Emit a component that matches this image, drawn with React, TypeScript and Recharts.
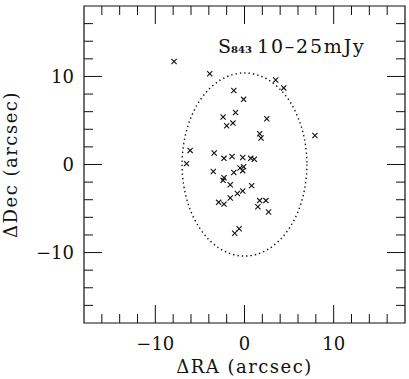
import React from 'react';
import { ScatterChart, Scatter, XAxis, YAxis, ReferenceDot, ReferenceArea } from 'recharts';

// source positions (arcsec)
const raOffsets = [
  -7.9, -3.9, 3.5, 4.4, -1.2, -0.1, -1.0, -2.4, -1.3, -2.0, 2.5, 1.7, 1.85, 7.9,
  -6.1, -6.5, -3.4, -2.3, -1.4, -0.2, 0.7, 1.1, -0.1, -0.5, -0.2, -3.5, -1.2,
  -2.3, -2.4, -1.6, 0.8, -0.2, -0.8, -1.6, -2.9, -2.3, 1.7, 2.4, 1.5, 2.7, -0.6, -1.1,
];
const decOffsets = [
  11.7, 10.3, 9.6, 8.7, 8.4, 7.4, 5.9, 5.4, 4.7, 4.4, 5.2, 3.5, 3.0, 3.3,
  1.6, 0.1, 1.3, 0.7, 0.9, 0.8, 0.7, 0.6, -0.25, -0.4, -0.7, -0.8, -0.9,
  -1.5, -1.8, -2.3, -2.4, -3.0, -3.3, -3.8, -4.3, -4.5, -4.1, -4.1, -4.8, -5.4, -7.3, -7.8,
];

const axisTicks = [-16, -14, -12, -10, -8, -6, -4, -2, 0, 2, 4, 6, 8, 10, 12, 14, 16];
const labelledTicks = [-10, 0, 10];
const AXIS_MIN = -18;
const AXIS_MAX = 18;

// beam / search ellipse (arcsec)
const ellipseCentre = { x: 0, y: 0 };
const ellipseRadii = { ra: 7, dec: 10.4 };

const W = 409;
const H = 379;
const MARGIN = { top: 6, right: 4, bottom: 0, left: 0 };
const YAXIS_W = 84;
const XAXIS_H = 56;
const PLOT_W = W - MARGIN.left - MARGIN.right - YAXIS_W;
const PLOT_H = H - MARGIN.top - MARGIN.bottom - XAXIS_H;

const FONT = '"DejaVu Serif", serif';
const INK = '#111';
const MAJOR = 18;
const MINOR = 9;

const points = raOffsets.map((x, i) => ({ x, y: decOffsets[i] }));

const fmt = (v: number) => (v < 0 ? `\u2212${Math.abs(v)}` : `${v}`);
const isMajor = (v: number) => labelledTicks.includes(v);

// bottom ticks also mirror onto the top edge of the frame
const BottomTick = ({ x, y, payload }: any) => {
  const len = isMajor(payload.value) ? MAJOR : MINOR;
  const top = y - PLOT_H;
  return (
    <g>
      <line x1={x} x2={x} y1={y} y2={y - len} stroke={INK} />
      <line x1={x} x2={x} y1={top} y2={top + len} stroke={INK} />
      {isMajor(payload.value) && (
        <text x={x} y={y + 27} textAnchor="middle" fontFamily={FONT} fontSize={18} fill={INK}>
          {fmt(payload.value)}
        </text>
      )}
    </g>
  );
};

// left ticks also mirror onto the right edge
const LeftTick = ({ x, y, payload }: any) => {
  const len = isMajor(payload.value) ? MAJOR : MINOR;
  const right = x + PLOT_W;
  return (
    <g>
      <line x1={x} x2={x + len} y1={y} y2={y} stroke={INK} />
      <line x1={right} x2={right - len} y1={y} y2={y} stroke={INK} />
      {isMajor(payload.value) && (
        <text x={x - 10} y={y} dy="0.36em" textAnchor="end" fontFamily={FONT} fontSize={18} fill={INK}>
          {fmt(payload.value)}
        </text>
      )}
    </g>
  );
};

const Cross = ({ cx, cy }: any) => {
  const s = 2.6;
  return (
    <g stroke={INK} strokeWidth={1.1}>
      <line x1={cx - s} y1={cy - s} x2={cx + s} y2={cy + s} />
      <line x1={cx - s} y1={cy + s} x2={cx + s} y2={cy - s} />
    </g>
  );
};

const Ellipse = ({ cx, cy }: any) => (
  <ellipse
    cx={cx}
    cy={cy}
    rx={(ellipseRadii.ra * PLOT_W) / (AXIS_MAX - AXIS_MIN)}
    ry={(ellipseRadii.dec * PLOT_H) / (AXIS_MAX - AXIS_MIN)}
    fill="none"
    stroke={INK}
    strokeWidth={1.4}
    strokeDasharray="1.4 3"
  />
);

export default function App() {
  return (
    <div style={{ position: 'absolute', left: 0, top: 0, width: W, height: H, background: '#fff' }}>
      <ScatterChart width={W} height={H} margin={MARGIN}>
        <XAxis
          type="number"
          dataKey="x"
          domain={[AXIS_MIN, AXIS_MAX]}
          allowDataOverflow
          ticks={axisTicks}
          interval={0}
          height={XAXIS_H}
          tickSize={0}
          tickMargin={0}
          tickLine={false}
          axisLine={false}
          tick={<BottomTick />}
          label={{ value: 'ΔRA (arcsec)', position: 'insideBottom', offset: 6, fontFamily: FONT, fontSize: 18, fill: INK, style: { letterSpacing: 1.5 } }}
        />
        <YAxis
          type="number"
          dataKey="y"
          domain={[AXIS_MIN, AXIS_MAX]}
          allowDataOverflow
          ticks={axisTicks}
          interval={0}
          width={YAXIS_W}
          tickSize={0}
          tickMargin={0}
          tickLine={false}
          axisLine={false}
          tick={<LeftTick />}
          label={{ value: 'ΔDec (arcsec)', angle: -90, position: 'insideLeft', offset: 11, fontFamily: FONT, fontSize: 18, fill: INK, style: { textAnchor: 'middle', letterSpacing: 1.5 } }}
        />
        <ReferenceArea
          x1={AXIS_MIN}
          x2={AXIS_MAX}
          y1={AXIS_MIN}
          y2={AXIS_MAX}
          fill="none"
          fillOpacity={0}
          stroke={INK}
          strokeWidth={1.2}
          ifOverflow="visible"
        />
        <ReferenceDot x={ellipseCentre.x} y={ellipseCentre.y} shape={(p: any) => <Ellipse {...p} />} />
        <Scatter data={points} shape={<Cross />} isAnimationActive={false} />
      </ScatterChart>
      <svg width={W} height={H} style={{ position: 'absolute', left: 0, top: 0, pointerEvents: 'none' }}>
        <text x={218} y={53} fontFamily={FONT} fontSize={19} fill={INK}>
          S
          <tspan fontSize={10} fontWeight="bold">843</tspan>
        </text>
        <text x={257} y={53} fontFamily={FONT} fontSize={19} fill={INK} letterSpacing={1.8}>
          10–25mJy
        </text>
      </svg>
    </div>
  );
}
